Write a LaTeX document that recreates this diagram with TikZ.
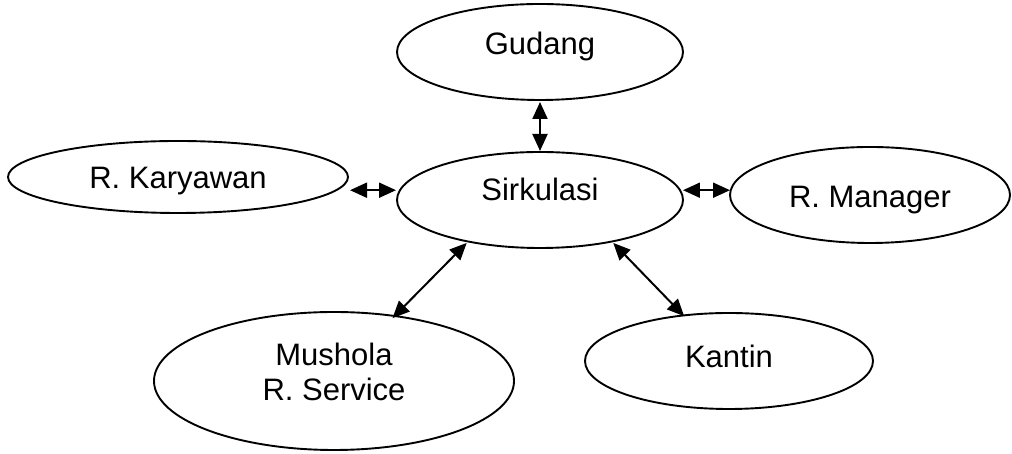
\documentclass[tikz,border=0pt]{standalone}
\usepackage{fontspec}
\setmainfont{Liberation Sans}
\usetikzlibrary{shapes.geometric,arrows.meta}
\begin{document}
\begin{tikzpicture}[x=1pt,y=1pt,
  room/.style={ellipse, draw, line width=1.9pt, inner sep=0pt, outer sep=0pt,
    font=\fontsize{31}{35}\selectfont, align=center},
  oneline/.style={text height=22pt, text depth=6pt},
  link/.style={{Triangle[length=17pt,width=15pt]}-{Triangle[length=17pt,width=15pt]},
    line width=2pt}]
\useasboundingbox (0,0) rectangle (1012,454);

% rooms
\node[room, oneline, minimum width=286pt, minimum height=96pt] (gudang) at (540,402) {\raisebox{5pt}{Gudang}};
\node[room, oneline, minimum width=340pt, minimum height=72pt] (kary) at (178,277) {\raisebox{-4pt}{R. Karyawan}};
\node[room, oneline, minimum width=286pt, minimum height=96pt] (sirk) at (540,254) {\raisebox{7pt}{Sirkulasi}};
\node[room, oneline, minimum width=280pt, minimum height=96pt] (mgr) at (870,259) {\raisebox{-5pt}{R. Manager}};
\node[room, minimum width=360pt, minimum height=138pt] (mush) at (334,73) {Mushola\\R. Service\rule[-18pt]{0pt}{0pt}};
\node[room, oneline, minimum width=288pt, minimum height=96pt] (kant) at (729,93) {\raisebox{1pt}{Kantin}};

% circulation links
\draw[link, shorten <=2pt, shorten >=1pt] (gudang.south) -- (sirk.north);
\draw[link, shorten <=2pt, shorten >=4pt] (sirk.176 -| kary.east) -- (sirk.176);
\draw[link, shorten <=3pt] (sirk.4) -- (sirk.4 -| mgr.west);
\draw[link, shorten <=2pt, shorten >=-3pt] (sirk.210) -- (mush.47.6);
\draw[link, shorten <=2pt, shorten >=-1pt] (sirk.-30) -- (kant.135);
\end{tikzpicture}
\end{document}
